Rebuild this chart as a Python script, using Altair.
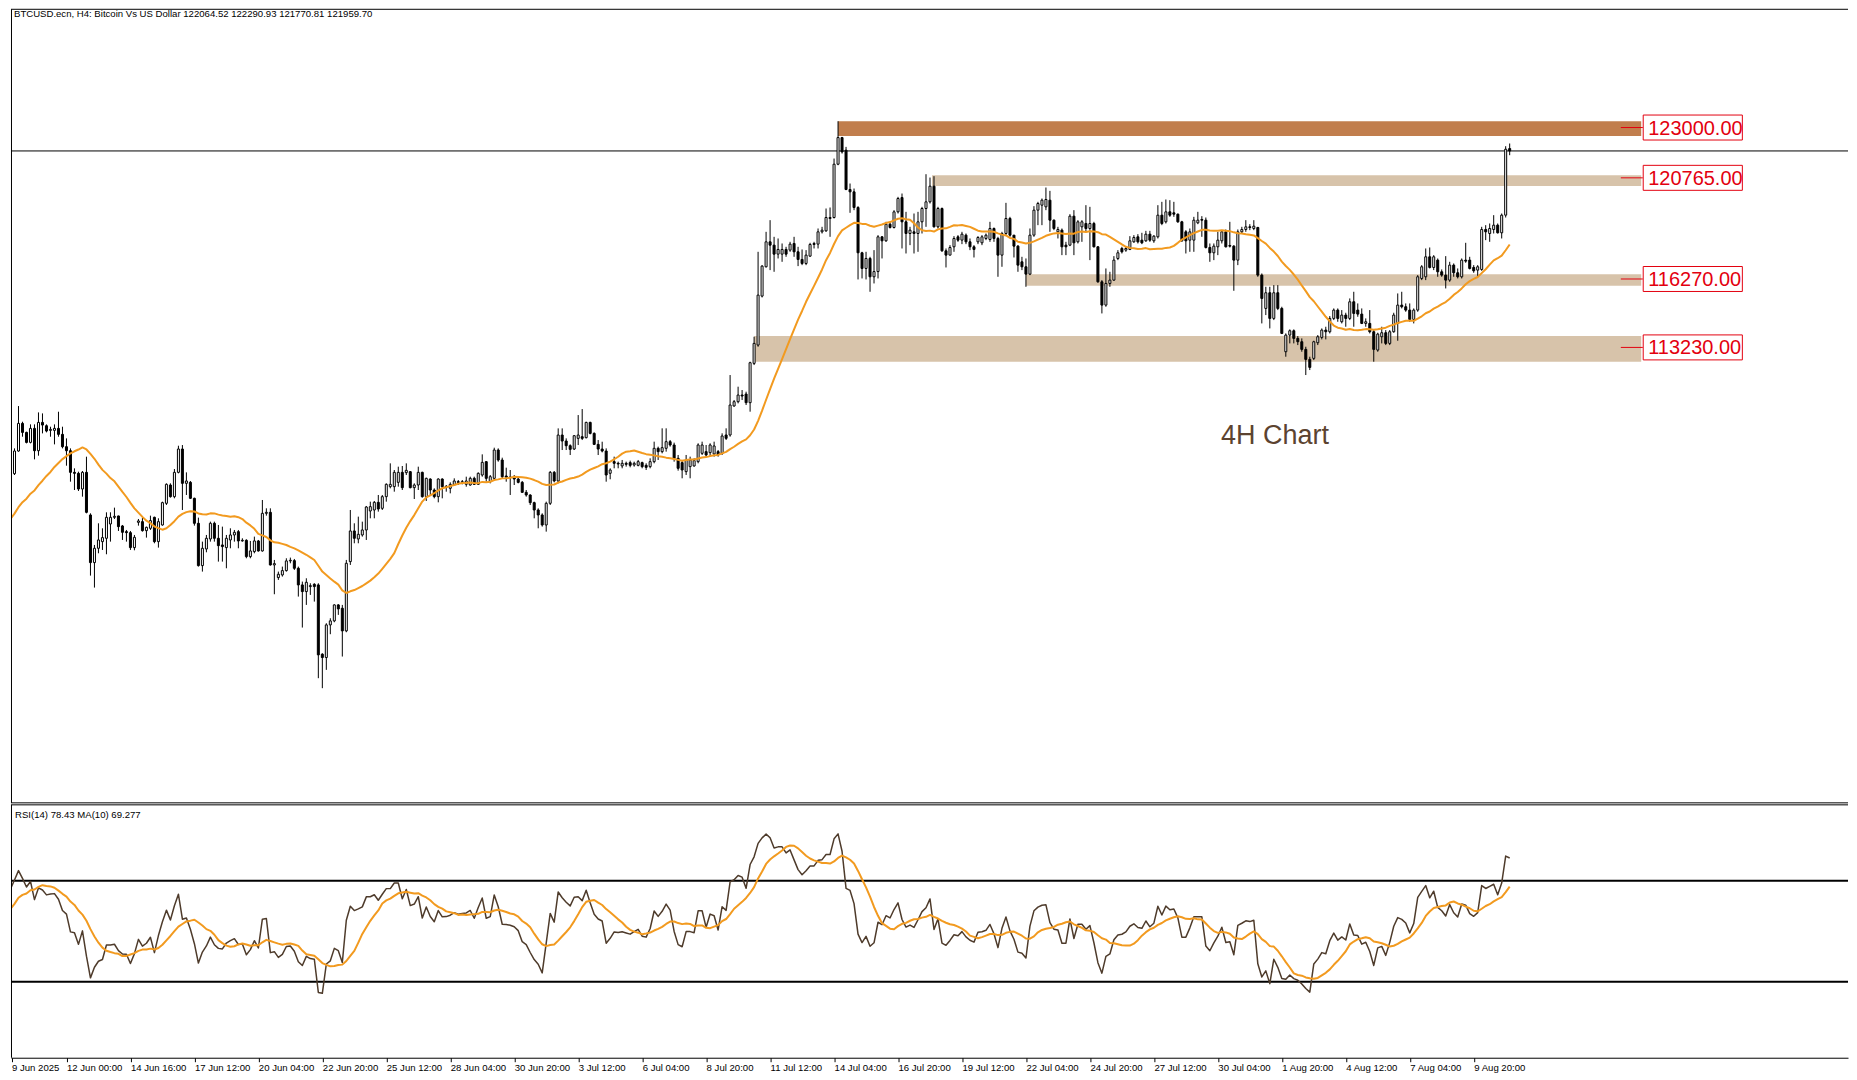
import altair as alt
import numpy as np
import pandas as pd

# ---------------- data (BTCUSD.ecn, H4) ----------------
opens = [
    105300, 105858, 107678, 107619, 108626, 109854, 109454, 109010, 109632, 108640,
    109898, 109750, 109543, 109543, 109632, 109366, 108818, 108640, 107678, 107634,
    106938, 107678, 105784, 103668, 104304, 104600, 104748, 105384, 105680, 105740,
    105296, 105044, 104999, 104334, 105458, 105488, 105088, 105192, 105680, 104600,
    105340, 106302, 107116, 106598, 107678, 108714, 107190, 107234, 106524, 105414,
    103534, 104274, 104718, 105414, 104748, 104452, 104334, 104674, 104896, 105044,
    104630, 104659, 103934, 104156, 104630, 104186, 105858, 105902, 103564, 103002,
    103120, 103312, 103742, 103756, 103416, 102676, 102380, 102602, 102706, 102676,
    99598, 99450, 100900, 101078, 101788, 101640, 100634, 103712, 105074, 104718,
    104896, 105118, 105962, 106006, 106346, 106080, 106598, 107042, 107042, 107234,
    107678, 107664, 107708, 106998, 107116, 107678, 106598, 107382, 106894, 106598,
    107382, 107027, 106968, 107116, 107264, 107234, 107146, 107116, 107412, 107146,
    107560, 108152, 107264, 107412, 108670, 108226, 107516, 107471, 107442, 107382,
    107234, 106790, 106672, 106332, 106006, 105784, 105340, 106302, 107678, 107294,
    109336, 109070, 108862, 108714, 109188, 109262, 109218, 109898, 109410, 108922,
    108714, 108626, 107636, 108154, 108080, 107962, 108080, 108110, 108006, 107990,
    108110, 107990, 107932, 108154, 108746, 108598, 108746, 109042, 108894, 108302,
    108110, 107710, 107932, 107962, 108154, 108524, 108598, 108554, 108494, 108598,
    108524, 109338, 109338, 110626, 110818, 111114, 111158, 110774, 112520, 113334,
    115510, 116812, 117922, 117774, 117374, 117374, 117582, 117552, 117848, 117478,
    117138, 116960, 117286, 117848, 117818, 118366, 118410, 118958, 119002, 121370,
    122554, 121992, 120246, 120142, 119446, 117434, 116738, 117182, 116368, 116600,
    118144, 117966, 118706, 118558, 119254, 119890, 118810, 118292, 118366, 118292,
    118810, 119402, 119698, 120394, 118588, 119402, 117522, 117330, 117700, 118144,
    117996, 118218, 117922, 117700, 117922, 117878, 118070, 118026, 118514, 118070,
    117330, 118292, 118958, 118218, 117730, 117034, 116812, 116486, 118218, 119328,
    119550, 119476, 119772, 118884, 118366, 118440, 117774, 117774, 119062, 117922,
    118588, 118736, 118514, 118736, 117700, 116146, 115110, 116072, 116220, 117182,
    117626, 117552, 117582, 117922, 118144, 117996, 117966, 118262, 117966, 118144,
    119106, 118810, 119254, 119210, 119150, 118810, 118366, 117996, 117996, 118766,
    118914, 118884, 117670, 117434, 117700, 117966, 118366, 117759, 117730, 117108,
    118366, 118470, 118588, 118514, 118558, 116442, 114962, 115658, 114518, 115658,
    114962, 113038, 113778, 113970, 113630, 113482, 113142, 112698, 112742, 113438,
    113674, 114000, 113926, 114518, 114888, 114370, 114666, 114518, 115258, 114888,
    114710, 114296, 114296, 113926, 113112, 113704, 113882, 113408, 113926, 114296,
    115110, 115036, 114888, 114474, 114888, 116294, 116368, 117256, 116782, 117108,
    116590, 116442, 116220, 116886, 116546, 116368, 117108, 117108, 116782, 116664,
    116694, 118470, 118292, 118470, 118662, 118322, 119106, 122064.52,
]
highs = [
    105900, 107930, 108078, 108744, 110624, 109928, 109484, 109810, 109810, 110342,
    110298, 109810, 109706, 109810, 110372, 109706, 109188, 108744, 107856, 107708,
    107738, 108374, 105858, 104452, 105414, 105192, 105902, 105902, 106110, 105754,
    105340, 105118, 105074, 104896, 105606, 105666, 105266, 105754, 105710, 105636,
    106376, 107190, 107190, 107826, 108862, 108892, 107678, 107294, 106554, 105666,
    104600, 104896, 105488, 105488, 105340, 105266, 104896, 105192, 105118, 105118,
    104748, 104704, 104630, 104822, 104674, 106450, 106080, 106080, 103786, 103268,
    103490, 103860, 103890, 103830, 103490, 102824, 102972, 102750, 102750, 102750,
    99642, 100974, 101196, 101818, 101818, 101788, 103786, 106006, 105414, 105710,
    105488, 106184, 106376, 106406, 106672, 106672, 107190, 108078, 107782, 107930,
    107960, 108078, 107738, 107190, 107930, 107708, 107442, 107412, 106968, 107412,
    107412, 107116, 107234, 107412, 107338, 107338, 107486, 107486, 107486, 107678,
    108478, 108182, 107560, 108774, 108744, 108330, 107886, 107782, 107560, 107486,
    107294, 106894, 106702, 106376, 106080, 105858, 106376, 107738, 107738, 109632,
    109632, 109188, 108922, 109336, 110224, 110490, 109928, 109928, 109454, 109114,
    109040, 108744, 107858, 108376, 108154, 108228, 108154, 108198, 108154, 108228,
    108154, 108080, 108302, 109042, 108820, 109634, 109634, 109116, 108998, 108450,
    108228, 108450, 108376, 108302, 108968, 109042, 108894, 108968, 109042, 108672,
    109412, 109634, 112002, 110892, 111484, 111336, 111262, 112594, 113704, 117478,
    116886, 118366, 118884, 118144, 118070, 117848, 117700, 117922, 118144, 117700,
    117582, 117552, 117878, 117922, 118514, 118588, 119402, 119446, 121622, 123280,
    122584, 122140, 120512, 120290, 119506, 117478, 117478, 117256, 117552, 118218,
    118174, 118810, 118810, 119328, 119920, 120068, 119254, 118588, 119180, 119254,
    119476, 120926, 120778, 120838, 119476, 119446, 117626, 117774, 118174, 118218,
    118366, 118292, 118070, 117774, 118174, 118218, 118292, 118810, 118558, 118144,
    118366, 119654, 119032, 118218, 117774, 117256, 117182, 118514, 119506, 119698,
    119846, 120334, 120186, 118914, 118588, 118514, 117922, 119150, 119328, 118884,
    118884, 119550, 119476, 118810, 117730, 116220, 116738, 116590, 117286, 117552,
    117700, 117700, 118174, 118218, 118262, 118322, 118410, 118410, 118218, 119550,
    119698, 119802, 119772, 119698, 119180, 118854, 118440, 118514, 119032, 119254,
    119062, 119002, 117848, 117848, 118366, 118440, 118470, 118810, 117774, 118470,
    118588, 118884, 118706, 118884, 118588, 116516, 115924, 115924, 115998, 115998,
    115036, 113852, 114030, 114030, 113734, 113630, 113260, 112816, 113526, 113778,
    114074, 114148, 114622, 114962, 114962, 114888, 114770, 115406, 115702, 115184,
    114962, 114518, 114888, 114000, 113882, 114148, 114000, 114000, 114770, 115628,
    115702, 115184, 115184, 114962, 116442, 116886, 117626, 117670, 117330, 117182,
    116694, 117286, 117034, 116960, 116738, 117182, 117878, 117256, 116886, 116886,
    118588, 118662, 118736, 119106, 118736, 119180, 122170, 122290.93,
]
lows = [
    105000, 105784, 106790, 107560, 108596, 109262, 108966, 108966, 108256, 108418,
    109410, 109454, 109262, 108922, 109262, 108744, 107974, 107264, 106894, 106850,
    106598, 105858, 103090, 102558, 104082, 104230, 104038, 104600, 105606, 105074,
    104674, 104600, 104230, 104215, 105310, 105044, 104778, 105118, 104526, 104334,
    105310, 106228, 106554, 106524, 107634, 106006, 106672, 106494, 105310, 103490,
    103268, 104126, 104600, 104600, 103712, 103712, 103416, 104304, 104600, 104304,
    104600, 103860, 103860, 104082, 104156, 104156, 105754, 103534, 102262, 102898,
    103046, 103268, 103638, 103342, 102158, 100782, 101788, 102232, 101936, 98532,
    98088, 98902, 100486, 101018, 101344, 99494, 100574, 103564, 104526, 104526,
    104822, 104674, 105636, 105636, 105932, 106006, 106376, 106968, 106820, 107042,
    106894, 107560, 106968, 106494, 106894, 106554, 106406, 106672, 106524, 106346,
    106524, 106820, 106746, 107086, 107116, 107146, 107042, 107086, 107116, 107116,
    107486, 107264, 107190, 107338, 108152, 107412, 107264, 106672, 107116, 107190,
    106776, 106598, 106228, 105636, 105192, 105266, 105044, 106228, 107234, 107190,
    108670, 108670, 108448, 108670, 108892, 109114, 109188, 109366, 108892, 108448,
    108566, 107264, 107370, 107858, 107858, 107858, 107932, 107902, 107932, 107946,
    107858, 107784, 107858, 108080, 108228, 108524, 108598, 108820, 108154, 107754,
    107414, 107562, 107414, 107932, 108080, 108450, 108376, 108376, 108376, 108376,
    108450, 109116, 109264, 110596, 110744, 110892, 110670, 110374, 112446, 113260,
    115450, 116782, 116664, 116590, 117182, 117034, 117256, 117478, 117256, 116842,
    116886, 116886, 117256, 117626, 117626, 118292, 118366, 118144, 118958, 121326,
    121844, 120216, 119210, 119328, 116250, 116294, 116250, 115702, 116072, 116294,
    117182, 117922, 118514, 118514, 119180, 117626, 117404, 117774, 117404, 117478,
    118292, 118588, 119624, 118558, 118514, 117478, 116782, 117330, 117478, 117922,
    117818, 117818, 117552, 117226, 117818, 117774, 117996, 117922, 117922, 116368,
    116812, 118218, 118144, 117226, 116590, 116664, 115924, 116442, 118144, 118662,
    118662, 119328, 118366, 118440, 118070, 117330, 117330, 117730, 117330, 117848,
    117922, 118366, 117108, 117670, 116102, 114740, 115036, 115924, 116190, 117108,
    117404, 117478, 117552, 117878, 117848, 117818, 117922, 117922, 117878, 118070,
    118662, 118736, 119032, 119032, 118766, 117922, 117404, 117478, 117478, 118706,
    118144, 117626, 117034, 117108, 117330, 117848, 117670, 117670, 115746, 116886,
    118292, 118366, 118440, 118440, 116368, 114296, 114666, 114074, 114444, 114888,
    113822, 112816, 113408, 113408, 113334, 113038, 112002, 112224, 112668, 113334,
    113586, 113586, 113852, 114444, 114370, 114296, 114148, 114444, 114148, 114592,
    114266, 114148, 113852, 112594, 113038, 113408, 113334, 113334, 113882, 113526,
    114962, 114814, 114370, 114296, 114814, 116220, 116220, 116738, 116664, 116368,
    116368, 115850, 116146, 116368, 116294, 116294, 116990, 116694, 116546, 116368,
    116634, 117996, 117922, 118292, 118292, 118070, 119002, 121770.81,
]
closes = [
    105850, 107678, 107619, 108626, 109854, 109454, 109010, 109632, 108640, 109898,
    109780, 109514, 109588, 109632, 109366, 108818, 108640, 107678, 107634, 106938,
    107678, 105902, 103668, 104304, 104674, 104778, 105680, 105680, 105725, 105266,
    105014, 104999, 104334, 104792, 105518, 105088, 105236, 105532, 104600, 105488,
    106332, 107146, 106598, 107678, 108714, 107190, 107294, 106524, 105414, 103534,
    104304, 104748, 105414, 104748, 104422, 104378, 104748, 104896, 105014, 104630,
    104659, 103934, 104186, 104630, 104186, 105858, 105902, 103564, 103623, 103150,
    103312, 103742, 103771, 103416, 102676, 102380, 102794, 102646, 102602, 99568,
    99450, 100900, 101078, 101788, 101610, 100634, 103638, 105074, 104748, 104926,
    105118, 106139, 106154, 106346, 106050, 106598, 107146, 107146, 107678, 107678,
    106998, 107767, 106998, 107116, 107678, 106598, 107412, 106894, 106598, 107382,
    107042, 107057, 107146, 107294, 107234, 107264, 107294, 107412, 107146, 107634,
    108122, 107412, 107486, 108670, 108226, 107486, 107471, 107442, 107382, 107234,
    106790, 106672, 106332, 106006, 105784, 105340, 106302, 107678, 107294, 109336,
    109070, 108862, 108700, 109306, 109336, 109188, 109898, 109410, 108922, 108714,
    108626, 107560, 107784, 108080, 108050, 108080, 108036, 107990, 108080, 108154,
    107932, 107902, 108154, 108746, 108598, 108776, 109042, 108894, 108302, 107858,
    107784, 108228, 108228, 108198, 108894, 108894, 108450, 108894, 108850, 108450,
    109294, 109190, 110670, 110818, 111114, 111070, 110774, 112550, 113408, 115554,
    116842, 117922, 117774, 117374, 117582, 117582, 117374, 117818, 117478, 117138,
    116960, 117330, 117804, 117804, 118366, 118440, 119002, 119002, 121370, 122554,
    121918, 120246, 120142, 119446, 117434, 116738, 117182, 116368, 116600, 118144,
    117966, 118706, 118558, 119254, 119846, 118810, 118292, 118440, 118292, 118810,
    119402, 119698, 120394, 118588, 119402, 117522, 117330, 117670, 118070, 117996,
    118262, 117922, 117700, 117582, 118114, 118144, 118218, 118514, 118070, 117330,
    118292, 118958, 118218, 117730, 116886, 116812, 116486, 118218, 119328, 119624,
    119772, 119802, 118884, 118514, 118470, 117700, 117700, 119062, 117878, 118810,
    118810, 118514, 118736, 117700, 116146, 115110, 116072, 116220, 117108, 117434,
    117478, 117626, 117966, 118114, 117922, 117878, 118262, 117996, 118174, 119106,
    118736, 119254, 119106, 119150, 118810, 117966, 117966, 118366, 118884, 118884,
    118884, 117670, 117434, 117730, 117996, 118366, 117700, 117730, 117108, 118366,
    118470, 118588, 118558, 118618, 116442, 115406, 115658, 114518, 115658, 114962,
    113852, 113778, 113970, 113630, 113482, 113142, 112698, 112342, 113482, 113704,
    114000, 113926, 114518, 114888, 114518, 114666, 114518, 115258, 114740, 114710,
    114296, 114370, 113926, 113142, 113822, 113882, 113408, 113926, 114666, 115110,
    115036, 114888, 114474, 114888, 116368, 116812, 117256, 116782, 117256, 116590,
    116442, 116220, 116886, 116546, 116368, 117108, 117064, 116738, 116634, 116812,
    118470, 118366, 118514, 118662, 118322, 119106, 122036, 121959.70,
]
# closes before the first visible candle (estimated from where the MA and RSI start)
pre_closes = [
    103700, 104400, 103900, 104100, 105000, 105900, 105200, 105800, 105100, 105900,
    105300, 106000, 105200, 105800, 105400, 106000, 105300, 105700, 105400,
]

tick_labels = [
    "9 Jun 2025", "12 Jun 00:00", "14 Jun 16:00", "17 Jun 12:00", "20 Jun 04:00",
    "22 Jun 20:00", "25 Jun 12:00", "28 Jun 04:00", "30 Jun 20:00", "3 Jul 12:00",
    "6 Jul 04:00", "8 Jul 20:00", "11 Jul 12:00", "14 Jul 04:00", "16 Jul 20:00",
    "19 Jul 12:00", "22 Jul 04:00", "24 Jul 20:00", "27 Jul 12:00", "30 Jul 04:00",
    "1 Aug 20:00", "4 Aug 12:00", "7 Aug 04:00", "9 Aug 20:00",
]
tick_step = 16

zone_levels = [123000.00, 120765.00, 116270.00, 113230.00]
zone_lo = [122627, 120406, 115965, 112590]
zone_hi = [123280, 120882, 116485, 113732]
zone_start = [209, 232.5, 256, 188]
zone_colors = ["#C17E4D", "#D7C3AA", "#D7C3AA", "#D7C3AA"]

bid_price = 121959.70
title_text = "BTCUSD.ecn, H4:  Bitcoin Vs US Dollar  122064.52 122290.93 121770.81 121959.70"
rsi_text = "RSI(14) 78.43 MA(10) 69.277"
annot_text = "4H Chart"
annot_pos = (318.3, 109290)
rsi_levels = [70, 30]

# ---------------- indicators ----------------
n = len(closes)
allc = np.array(pre_closes + closes, dtype=float)
npre = len(pre_closes)
ma20 = pd.Series(allc).rolling(20, min_periods=1).mean().to_numpy()[npre:]

period = 14
d = np.diff(allc)
gains = np.where(d > 0, d, 0.0)
losses = np.where(d < 0, -d, 0.0)
rsi_all = np.full(len(allc), 50.0)
ag = gains[:period].mean()
al = losses[:period].mean()
rsi_all[period] = 100 - 100 / (1 + ag / al) if al > 0 else 100.0
for k in range(period, len(d)):
    ag = (ag * (period - 1) + gains[k]) / period
    al = (al * (period - 1) + losses[k]) / period
    rsi_all[k + 1] = 100 - 100 / (1 + ag / al) if al > 0 else 100.0
rsi_ma = pd.Series(rsi_all).rolling(10, min_periods=1).mean().to_numpy()

df = pd.DataFrame({
    "i": np.arange(n).astype(float),
    "o": np.array(opens, dtype=float), "h": np.array(highs, dtype=float),
    "l": np.array(lows, dtype=float), "c": np.array(closes, dtype=float),
    "ma": ma20,
    "rsi": rsi_all[npre:],
    "rsima": rsi_ma[npre:],
})

# ---------------- layout ----------------
W = 1838
H1 = 794
H2 = 253
X_MIN = 2.125                      # candle index at the left edge of the plot
X_MAX = X_MIN + W / 4.0            # 4 px per candle
PXP = 44.41                        # price per pixel
Y_MAX = 128254.0
Y_MIN = Y_MAX - H1 * PXP

RED = "#E3000F"
ORANGE = "#F29A1F"
RSI_COL = "#4E3B2B"
BULL = "#FFFFFF"
FONT = "Liberation Sans"

xs = alt.Scale(domain=[X_MIN, X_MAX], nice=False, zero=False, padding=0)
ys = alt.Scale(domain=[Y_MIN, Y_MAX], nice=False, zero=False, padding=0)
ys2 = alt.Scale(domain=[0, 100], nice=False, zero=False, padding=0)


def XF(f):
    return alt.X(f, type="quantitative", scale=xs, axis=None)


def YF(f):
    return alt.Y(f, type="quantitative", scale=ys, axis=None)


def YR(f):
    return alt.Y(f, type="quantitative", scale=ys2, axis=None)


base = alt.Chart(df)

# invisible anchor that fixes the left bound of each panel (keeps both panels aligned)
anchor_df = pd.DataFrame({"a0": [X_MIN - 0.75], "a1": [X_MIN], "y0": [Y_MIN], "y1": [Y_MAX],
                          "r0": [0.0], "r1": [100.0]})
anchor_main = alt.Chart(anchor_df).mark_rect(fill="white", fillOpacity=0).encode(
    x=XF("a0"), x2="a1", y=YF("y0"), y2="y1")

zones_df = pd.DataFrame({"start": [float(v) for v in zone_start], "end": [409.9] * 4,
                         "lo": [float(v) for v in zone_lo], "hi": [float(v) for v in zone_hi],
                         "col": zone_colors})
zones = alt.Chart(zones_df).mark_rect().encode(
    x=XF("start"), x2="end", y=YF("lo"), y2="hi",
    fill=alt.Fill("col:N", scale=None),
)

bid = alt.Chart(pd.DataFrame({"p": [bid_price]})).mark_rule(
    color="black", strokeWidth=1).encode(y=YF("p"))

wicks = base.mark_rule(color="black", strokeWidth=1, clip=True).encode(
    x=XF("i"), y=YF("l"), y2="h")

bodies = base.mark_bar(size=2, stroke="black", strokeWidth=1, clip=True).encode(
    x=XF("i"), y=YF("o"), y2="c",
    fill=alt.condition("datum.c >= datum.o", alt.value(BULL), alt.value("black")),
)

ma_line = base.mark_line(color=ORANGE, strokeWidth=2, clip=True, strokeJoin="round").encode(
    x=XF("i"), y=YF("ma"))

lev_df = pd.DataFrame({
    "level": zone_levels,
    "label": [f"{v:.2f}" for v in zone_levels],
    "lo": [v - 555.0 for v in zone_levels],
    "hi": [v + 555.0 for v in zone_levels],
    "t0": [404.8] * 4, "t1": [410.3] * 4, "b0": [410.4] * 4, "b1": [435.2] * 4,
})
lev_ticks = alt.Chart(lev_df).mark_rule(color=RED, strokeWidth=1).encode(
    x=XF("t0"), x2="t1", y=YF("level"))
lev_box = alt.Chart(lev_df).mark_rect(fill="white", stroke=RED, strokeWidth=1).encode(
    x=XF("b0"), x2="b1", y=YF("lo"), y2="hi")
lev_text = alt.Chart(lev_df).mark_text(
    align="left", baseline="middle", dx=5, dy=1, fontSize=20, font=FONT, color=RED
).encode(x=XF("b0"), y=YF("level"), text="label:N")

annot = alt.Chart(pd.DataFrame({"t": [annot_text], "x": [annot_pos[0]], "y": [annot_pos[1]]})).mark_text(
    fontSize=27, font=FONT, color="#5C4330", align="center", baseline="middle"
).encode(x=XF("x"), y=YF("y"), text="t:N")

frame_df = pd.DataFrame({"x": [X_MIN + 0.125], "xt": [X_MIN], "ytop": [Y_MAX], "ybot": [Y_MIN],
                         "t": [title_text]})
title = alt.Chart(frame_df).mark_text(
    align="left", baseline="top", dx=3, dy=0, fontSize=9.6, font=FONT, color="black"
).encode(x=XF("xt"), y=YF("ytop"), text="t:N")
top_b = alt.Chart(frame_df).mark_rule(color="black", strokeWidth=1).encode(y=YF("ytop"))
bot_b = alt.Chart(frame_df).mark_rule(color="black", strokeWidth=1).encode(y=YF("ybot"))
left_b = alt.Chart(frame_df).mark_rule(color="black", strokeWidth=1).encode(x=XF("x"))

main = alt.layer(
    anchor_main, zones, bid, wicks, bodies, ma_line, lev_ticks, lev_box, lev_text, annot, title,
    top_b, left_b, bot_b,
).properties(width=W, height=H1)

# ---------------- RSI panel ----------------
label_js = "[" + ",".join("'" + s + "'" for s in tick_labels) + "]"
tick_values = [X_MIN + 0.125] + [k * tick_step for k in range(1, len(tick_labels))]
x_axis = alt.Axis(
    values=tick_values,
    labelExpr=label_js + "[round(datum.value / " + str(tick_step) + ")]",
    title=None, grid=False, tickSize=4, tickColor="black", domainColor="black",
    labelAlign="left", labelBaseline="top", labelOffset=0, labelPadding=1,
    labelFontSize=9.6, labelFont=FONT, labelColor="black",
    labelOverlap=False, labelFlush=False, labelBound=False,
)


def XA(f):
    return alt.X(f, type="quantitative", scale=xs, axis=x_axis)


anchor_rsi = alt.Chart(anchor_df).mark_rect(fill="white", fillOpacity=0).encode(
    x=XA("a0"), x2="a1", y=YR("r0"), y2="r1")
lv_df = pd.DataFrame({"v": [float(v) for v in rsi_levels]})
levels = alt.Chart(lv_df).mark_rule(color="black", strokeWidth=2).encode(y=YR("v"))
rsi_line = base.mark_line(color=RSI_COL, strokeWidth=1.5, clip=True, strokeJoin="round").encode(
    x=XA("i"), y=YR("rsi"))
rsi_ma_line = base.mark_line(color=ORANGE, strokeWidth=2, clip=True, strokeJoin="round").encode(
    x=XA("i"), y=YR("rsima"))
rframe = pd.DataFrame({"x": [X_MIN + 0.125], "xt": [X_MIN], "ytop": [100.0], "t": [rsi_text]})
rsi_lab = alt.Chart(rframe).mark_text(
    align="left", baseline="middle", dx=4, dy=10, fontSize=9.6, font=FONT, color="black"
).encode(x=XA("xt"), y=YR("ytop"), text="t:N")
top_r = alt.Chart(rframe).mark_rule(color="black", strokeWidth=1).encode(y=YR("ytop"))
left_r = alt.Chart(rframe).mark_rule(color="black", strokeWidth=1).encode(x=XA("x"))

rsi = alt.layer(anchor_rsi, levels, rsi_line, rsi_ma_line, rsi_lab, top_r, left_r).properties(
    width=W, height=H2)

chart = alt.vconcat(main, rsi, spacing=0).properties(padding=0, background="white").configure_view(
    strokeWidth=0)

chart.save("out.html", embed_options={"renderer": "svg", "actions": False})
